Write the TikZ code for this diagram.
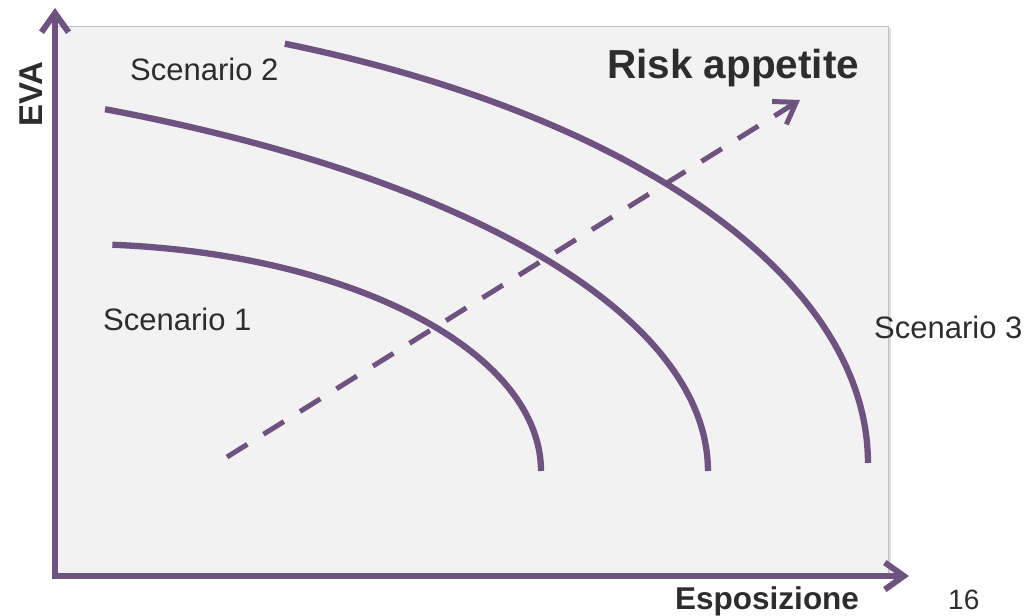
\documentclass[tikz,border=0pt]{standalone}
\usepackage{fontspec}
\setmainfont{Liberation Sans}
\usetikzlibrary{arrows.meta}
\definecolor{purp}{RGB}{110,82,128}
\definecolor{bgfill}{RGB}{242,242,242}
\definecolor{framecol}{RGB}{192,192,192}
\definecolor{shadowcol}{RGB}{222,222,222}
\definecolor{txt}{RGB}{45,45,45}
\begin{document}
\begin{tikzpicture}[x=1pt,y=-1pt,
  curve/.style={draw=purp,line width=6.3pt},
  axisline/.style={draw=purp,line width=6pt,line join=miter},
  lbl/.style={text=txt,inner sep=0pt,anchor=base west,font=\fontsize{31}{36}\selectfont},
  blbl/.style={text=txt,inner sep=0pt,anchor=base west,font=\fontsize{33}{40}\selectfont\bfseries}]
\useasboundingbox (0,0) rectangle (1029,616);
% panel
\fill[bgfill] (55,26) rectangle (888,576);
\draw[shadowcol,line width=2pt] (890,28) -- (890,578);
\draw[framecol,line width=1pt] (55,26) -- (888,26) -- (888,576);
% axes
\coordinate (ytip) at (55,8);
\coordinate (origin) at (55,576);
\coordinate (xtip) at (909,576);
\draw[axisline,{Straight Barb[length=19pt,width=27pt]}-{Straight Barb[length=19pt,width=27pt]}] (ytip) -- (origin) -- (xtip);
% curves
\draw[curve] plot[domain=85.4:0,samples=90] ({75+466*cos(\x)},{471-227*sin(\x)});
\draw[curve] plot[domain=62.88:0,samples=90] ({-400+1108*cos(\x)},{471-406.5*sin(\x)});
\draw[curve] plot[domain=66.57:0,samples=90] ({-100+968*cos(\x)},{463-457*sin(\x)});
% dashed risk appetite arrow
\coordinate (dstart) at (227,457);
\coordinate (dend) at (800,100);
\draw[purp,line width=5pt,dash pattern=on 24pt off 19pt,-{Straight Barb[length=20pt,width=27pt]}] (dstart) -- (dend);
% labels
\node[lbl] (s2) at (130,80) {Scenario 2};
\node[lbl] (s1) at (103,330) {Scenario 1};
\node[lbl] (s3) at (874,338) {Scenario 3};
\node[blbl,font=\fontsize{40.5}{46}\selectfont\bfseries] (risk) at (607,78) {Risk appetite};
\node[blbl,rotate=90] (eva) at (42,127) {EVA};
\node[blbl,font=\fontsize{31.5}{38}\selectfont\bfseries] (espo) at (675,609) {Esposizione};
\node[lbl,font=\fontsize{28}{34}\selectfont] (pg) at (948,609) {16};
\end{tikzpicture}
\end{document}
